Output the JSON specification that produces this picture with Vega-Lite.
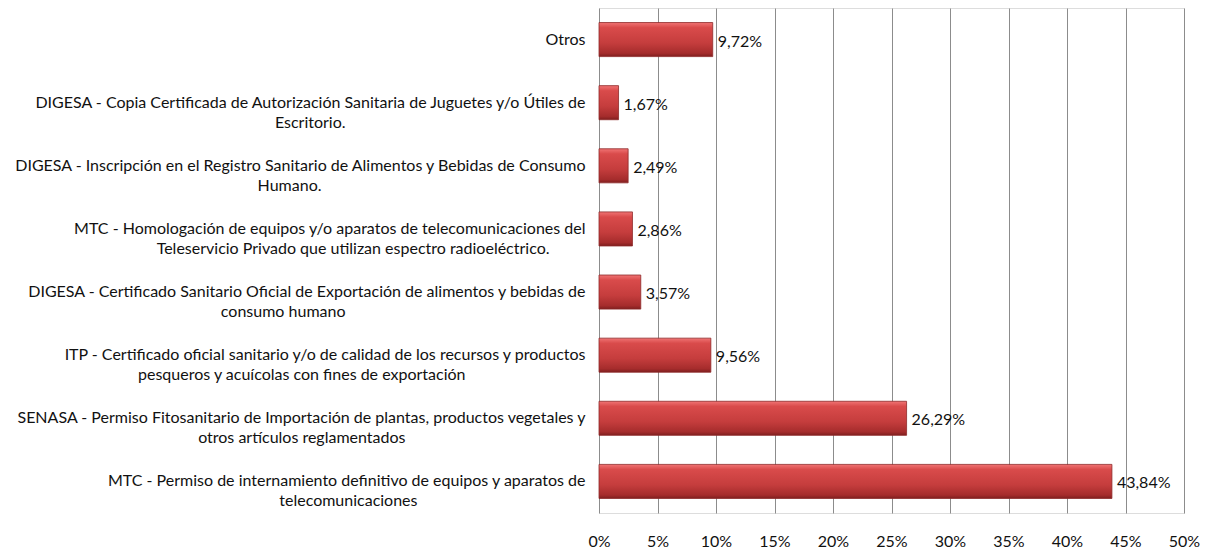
{
  "$schema": "https://vega.github.io/schema/vega-lite/v6.json",
  "autosize": "none",
  "width": 585,
  "height": 505,
  "padding": {"left": 599, "top": 8, "right": 30, "bottom": 39},
  "background": "white",
  "config": {
    "locale": {"number": {"decimal": ",", "thousands": ".", "grouping": [3], "currency": ["", " €"]}}
  },
  "data": {
    "values": [
      {"tramite": "Otros", "pct": 0.0972},
      {"tramite": "DIGESA - Copia Certificada de Autorización Sanitaria de Juguetes y/o Útiles de\nEscritorio.", "pct": 0.0167},
      {"tramite": "DIGESA - Inscripción en el Registro Sanitario de Alimentos y Bebidas de Consumo\nHumano.", "pct": 0.0249},
      {"tramite": "MTC - Homologación  de equipos y/o aparatos de telecomunicaciones del\nTeleservicio Privado que utilizan espectro radioeléctrico.", "pct": 0.0286},
      {"tramite": "DIGESA - Certificado Sanitario Oficial de Exportación de alimentos y bebidas de\nconsumo humano", "pct": 0.0357},
      {"tramite": "ITP - Certificado oficial sanitario  y/o de calidad de los recursos y productos\npesqueros y acuícolas con  fines de exportación", "pct": 0.0956},
      {"tramite": "SENASA - Permiso Fitosanitario  de Importación de plantas, productos vegetales y\notros artículos reglamentados", "pct": 0.2629},
      {"tramite": "MTC - Permiso de internamiento definitivo de equipos y aparatos de\ntelecomunicaciones", "pct": 0.4384}
    ]
  },
  "encoding": {
    "y": {
      "field": "tramite",
      "type": "nominal",
      "sort": null,
      "scale": {"paddingInner": 0.46, "paddingOuter": 0.23},
      "axis": {
        "title": null,
        "ticks": false,
        "domain": false,
        "labelPadding": 14,
        "labelFont": "Lato",
        "labelFontSize": 16,
        "labelColor": "#111111",
        "labelLimit": 700,
        "labelLineHeight": 20,
        "labelExpr": "length(split(datum.label,'\\n'))>1 ? [split(datum.label,'\\n')[0], pad(split(datum.label,'\\n')[1], length(split(datum.label,'\\n')[1]) + round((length(split(datum.label,'\\n')[0]) - length(split(datum.label,'\\n')[1]))*0.3), '\u2800', 'right')] : datum.label"
      }
    },
    "x": {
      "field": "pct",
      "type": "quantitative",
      "scale": {"domain": [0, 0.5], "nice": false},
      "axis": {
        "title": null,
        "values": [0, 0.05, 0.1, 0.15, 0.2, 0.25, 0.3, 0.35, 0.4, 0.45, 0.5],
        "format": ".0%",
        "ticks": false,
        "domain": false,
        "grid": true,
        "gridColor": "#8c8c8c",
        "gridWidth": 1,
        "gridOpacity": 1,
        "labelFlush": false,
        "labelOverlap": false,
        "labelPadding": 20,
        "labelFont": "Lato",
        "labelFontSize": 16,
        "labelColor": "#111111"
      }
    }
  },
  "layer": [
    {
      "mark": {
        "type": "bar",
        "stroke": "#8e2a2a",
        "strokeWidth": 0.8,
        "color": {
          "gradient": "linear",
          "x1": 0, "y1": 0, "x2": 0, "y2": 1,
          "stops": [
            {"offset": 0, "color": "#f07474"},
            {"offset": 0.15, "color": "#d94b4b"},
            {"offset": 0.6, "color": "#c53d3d"},
            {"offset": 0.9, "color": "#a52c2c"},
            {"offset": 1, "color": "#7e1e1e"}
          ]
        }
      }
    },
    {
      "mark": {
        "type": "text",
        "align": "left",
        "baseline": "middle",
        "dx": 5,
        "dy": 2,
        "font": "Lato",
        "fontSize": 16,
        "color": "#111111"
      },
      "encoding": {
        "text": {"field": "pct", "type": "quantitative", "format": ".2%"}
      }
    }
  ]
}
